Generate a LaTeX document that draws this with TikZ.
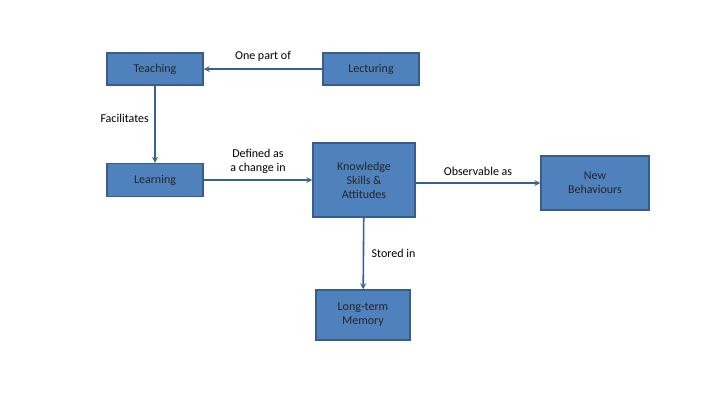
\documentclass[tikz,border=0pt]{standalone}
\usepackage{fontspec}
\setmainfont{Carlito}
\usetikzlibrary{arrows}
\definecolor{boxfill}{HTML}{4F81BD}
\definecolor{boxline}{HTML}{385D8A}
\definecolor{arrowc}{HTML}{3A6090}
\tikzstyle{concept}=[rectangle,draw=boxline,line width=1.5pt,fill=boxfill,
text=black!85,font=\fontsize{12}{14}\selectfont,align=center,inner sep=0pt]
\tikzstyle{lbl}=[font=\fontsize{12}{14}\selectfont,align=center,text=black]
\tikzstyle{arrow}=[draw=arrowc,line width=1.6pt,->,>=stealth]

\begin{document}
\begin{tikzpicture}[x=1pt,y=-1pt]
        \useasboundingbox (0,0) rectangle (720,405);
        \node (teach) [concept,minimum width=96pt,minimum height=32pt] at (155,69) {Teaching};
        \node (lect) [concept,minimum width=96pt,minimum height=32pt] at (371,69) {Lecturing};
        \node (learn) [concept,minimum width=96pt,minimum height=33pt] at (155,180) {Learning};
        \node (know) [concept,minimum width=102pt,minimum height=74pt] at (364,180) {Knowledge\\Skills \&\\Attitudes};
        \node (behav) [concept,minimum width=108pt,minimum height=54pt] at (595,183) {New\\Behaviours};
        \node (mem) [concept,minimum width=94pt,minimum height=50pt] at (363,315) {Long-term\\Memory};

        \draw [arrow] (lect) -- node[lbl,above=3pt] {One part of} (teach);
        \draw [arrow] (teach) -- node[lbl,left=2pt,pos=0.43] {Facilitates} (learn);
        \draw [arrow] (learn) -- node[lbl,above=2pt] {Defined as\\a change in} (know.west|-learn);
        \draw [arrow] (know.east|-behav) -- node[lbl,above=3pt] {Observable as} (behav);
        \draw [arrow] (know) -- node[lbl,right=4pt] {Stored in} (mem);
\end{tikzpicture}
\end{document}
